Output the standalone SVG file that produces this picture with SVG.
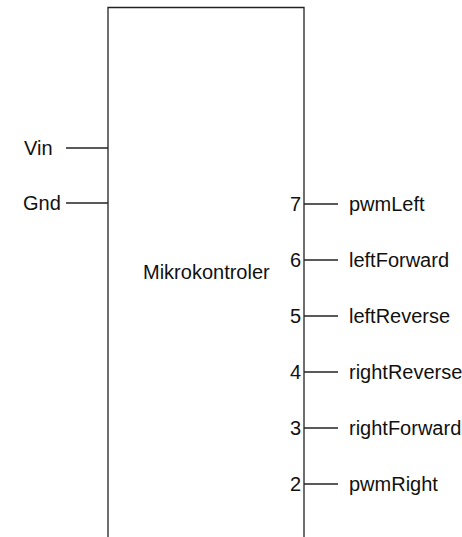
<svg xmlns="http://www.w3.org/2000/svg" width="462" height="537" viewBox="0 0 462 537">
<style>
text{font-family:"Liberation Sans",Arial,sans-serif;font-size:20px;fill:#111}
.n{text-anchor:end}
line,path{stroke:#222;stroke-width:1.3;fill:none}
</style>
<rect width="462" height="537" fill="#fff"/>
<g id="mcu">
<path d="M108,545 V7.5 H304 V545"/>
<text x="143" y="279" font-size="19.5">Mikrokontroler</text>
</g>
<g id="connectors">
<line x1="66" y1="148" x2="108" y2="148"/>
<line x1="66" y1="203" x2="108" y2="203"/>
<line x1="304" y1="204" x2="338" y2="204"/>
<line x1="304" y1="260" x2="338" y2="260"/>
<line x1="304" y1="316" x2="338" y2="316"/>
<line x1="304" y1="372" x2="338" y2="372"/>
<line x1="304" y1="428" x2="338" y2="428"/>
<line x1="304" y1="484" x2="338" y2="484"/>
</g>
<g id="vin"><text x="24" y="155">Vin</text></g>
<g id="gnd"><text x="23" y="210">Gnd</text></g>
<g id="pin7"><text class="n" x="301" y="211">7</text><text x="349" y="211">pwmLeft</text></g>
<g id="pin6"><text class="n" x="301" y="267">6</text><text x="349" y="267">leftForward</text></g>
<g id="pin5"><text class="n" x="301" y="323">5</text><text x="349" y="323">leftReverse</text></g>
<g id="pin4"><text class="n" x="301" y="379">4</text><text x="349" y="379">rightReverse</text></g>
<g id="pin3"><text class="n" x="301" y="435">3</text><text x="349" y="435">rightForward</text></g>
<g id="pin2"><text class="n" x="301" y="491">2</text><text x="349" y="491">pwmRight</text></g>
</svg>
